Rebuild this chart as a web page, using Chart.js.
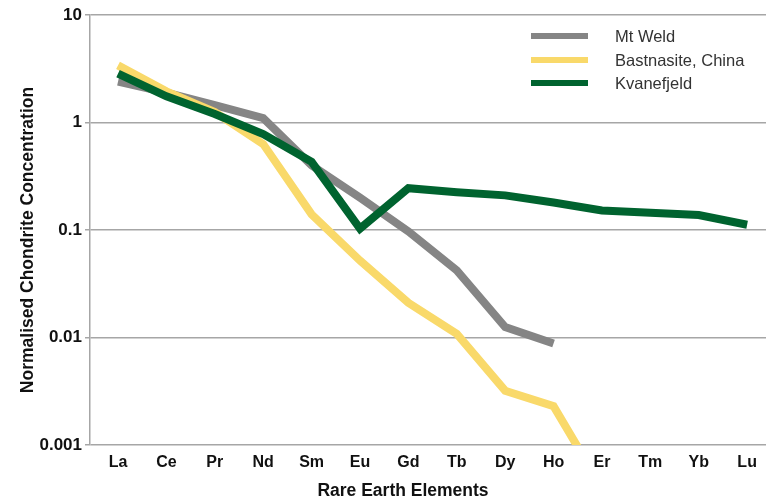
<!DOCTYPE html>
<html>
<head>
<meta charset="utf-8">
<script src="https://cdn.jsdelivr.net/npm/chart.js@4"></script>
<style>
  html, body { margin: 0; padding: 0; background: #ffffff; }
  #wrap { width: 773px; height: 501px; position: relative; }
</style>
</head>
<body>
<div id="wrap"><canvas id="c" width="773" height="501"></canvas></div>
<script>
const categories = ['La','Ce','Pr','Nd','Sm','Eu','Gd','Tb','Dy','Ho','Er','Tm','Yb','Lu'];
const mtWeld     = [2.4, 1.9, 1.45, 1.1, 0.40, 0.20, 0.097, 0.042, 0.0125, 0.0088, null, null, null, null];
const bastnasite = [3.4, 1.95, 1.25, 0.63, 0.14, 0.052, 0.021, 0.0108, 0.0032, 0.0023, 0.0004, null, null, null];
const kvanefjeld = [2.85, 1.75, 1.2, 0.78, 0.43, 0.103, 0.245, 0.225, 0.21, 0.18, 0.152, 0.145, 0.138, 0.112];
const yTicks = [0.001, 0.01, 0.1, 1, 10];
const yTickLabels = ['0.001', '0.01', '0.1', '1', '10'];
const seriesNames = ['Mt Weld', 'Bastnasite, China', 'Kvanefjeld'];
const xTitle = 'Rare Earth Elements';
const yTitle = 'Normalised Chondrite Concentration';

const FONT = '"Liberation Sans", Arial, Helvetica, sans-serif';
const GRID = '#a6a6a6';

const toPts = arr => arr.map((v, i) => ({ x: i, y: v }));

const legendPlugin = {
  id: 'customLegend',
  afterDraw(chart) {
    const ctx = chart.ctx;
    ctx.save();
    const rows = [36, 60, 83];
    chart.data.datasets.forEach((ds, i) => {
      const y = rows[i];
      ctx.strokeStyle = ds.borderColor;
      ctx.lineWidth = 6;
      ctx.lineCap = 'butt';
      ctx.beginPath();
      ctx.moveTo(531, y);
      ctx.lineTo(588, y);
      ctx.stroke();
      ctx.fillStyle = '#333333';
      ctx.font = '16.5px ' + FONT;
      ctx.textBaseline = 'middle';
      ctx.textAlign = 'left';
      ctx.fillText(ds.label, 615, y + 1);
    });
    // axis titles
    ctx.fillStyle = '#111111';
    ctx.font = 'bold 17.5px ' + FONT;
    ctx.textAlign = 'center';
    ctx.textBaseline = 'middle';
    ctx.fillText(xTitle, 403, 491);
    ctx.translate(28, 240);
    ctx.rotate(-Math.PI / 2);
    ctx.fillText(yTitle, 0, 0);
    ctx.restore();
  }
};

new Chart(document.getElementById('c'), {
  type: 'line',
  data: {
    datasets: [
      { label: seriesNames[0], data: toPts(mtWeld), borderColor: '#858585', order: 3 },
      { label: seriesNames[1], data: toPts(bastnasite), borderColor: '#f9d96a', order: 2, clip: 0 },
      { label: seriesNames[2], data: toPts(kvanefjeld), borderColor: '#00632f', order: 1 }
    ]
  },
  options: {
    responsive: false,
    animation: false,
    layout: { padding: { top: 15, right: 7, left: 0, bottom: 0 } },
    elements: {
      line: { borderWidth: 8, tension: 0, borderJoinStyle: 'miter', borderCapStyle: 'butt', fill: false },
      point: { radius: 0, hoverRadius: 0 }
    },
    plugins: { legend: { display: false }, tooltip: { enabled: false } },
    scales: {
      x: {
        type: 'linear',
        min: -0.579,
        max: 13.39,
        afterBuildTicks: axis => { axis.ticks = categories.map((c, i) => ({ value: i })); },
        afterFit: scale => { scale.height = 56; },
        grid: { display: false, drawTicks: false },
        border: { display: false },
        ticks: {
          padding: 8,
          autoSkip: false,
          maxRotation: 0,
          color: '#111111',
          font: { family: FONT, size: 16, weight: 'bold' },
          callback: v => categories[v] ?? ''
        }
      },
      y: {
        type: 'logarithmic',
        min: 0.001,
        max: 10,
        afterBuildTicks: axis => { axis.ticks = yTicks.map(v => ({ value: v, major: true })); },
        afterFit: scale => { scale.width = 90; },
        grid: { color: GRID, lineWidth: 1.5, tickLength: 5, drawTicks: true, tickColor: GRID },
        border: { display: true, color: GRID, width: 1.5 },
        ticks: {
          padding: 3,
          color: '#111111',
          font: { family: FONT, size: 17, weight: 'bold' },
          callback: v => yTickLabels[yTicks.indexOf(v)] ?? ''
        }
      }
    }
  },
  plugins: [legendPlugin]
});
</script>
</body>
</html>
